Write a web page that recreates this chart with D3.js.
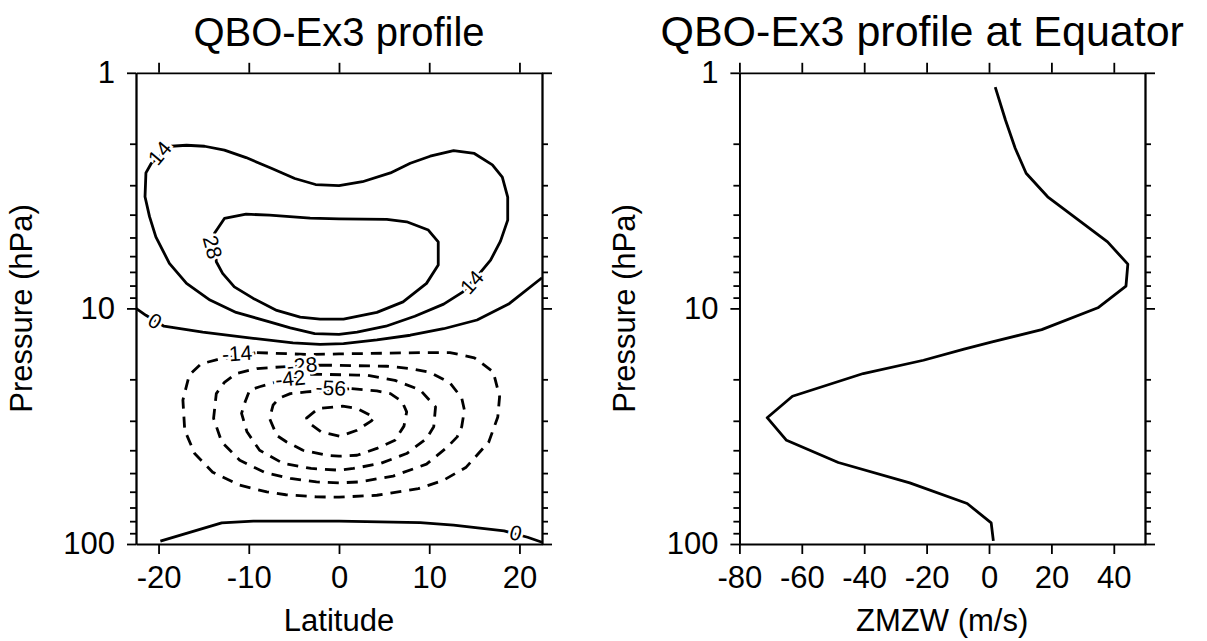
<!doctype html>
<html>
<head>
<meta charset="utf-8">
<title>QBO-Ex3 profile</title>
<script src="https://cdnjs.cloudflare.com/ajax/libs/d3/7.8.5/d3.min.js"></script>
<style>
  body { margin: 0; background: #fff; }
  svg { display: block; font-family: "Liberation Sans", Arial, sans-serif; }
  .axis path, .axis line { stroke: #000; stroke-width: 1.8px; }
  .axis text { fill: #000; }
</style>
</head>
<body>
<div id="chart"></div>
<script>
// ticks
const latTicks = [-20, -10, 0, 10, 20];
const windTicks = [-80, -60, -40, -20, 0, 20, 40];
const presMajor = [1, 10, 100];
const presMinor = [2, 3, 4, 5, 6, 7, 8, 9, 20, 30, 40, 50, 60, 70, 80, 90];

// wind profile at the equator (hPa, m/s)
const profPres = [1.15, 1.59, 2.09, 2.67, 3.36, 5.22, 6.49, 8.04, 9.94, 12.3, 13.9, 14.9, 16.6, 18.9, 23.6, 29.1, 36.3, 45.1, 55.0, 67.3, 81.4, 97.0];
const profWind = [2.0, 5.3, 8.4, 11.9, 18.8, 38.0, 44.5, 43.9, 34.9, 16.9, 0.7, -8.0, -21.0, -40.3, -63.0, -71.1, -64.9, -48.3, -25.4, -7.0, 0.7, 1.4];

// contour lines, [latitude, hPa]
const c14 = [[-18.6,2.05],[-16.9,2.03],[-14.9,2.05],[-12.7,2.13],[-10.3,2.29],[-7.5,2.54],[-4.9,2.81],[-2.6,2.98],[0,3.01],[2.6,2.90],[5.7,2.66],[7.9,2.42],[10.1,2.26],[12.7,2.14],[15.0,2.20],[17.0,2.46],[18.1,2.77],[18.7,3.37],[18.7,4.22],[17.9,5.18],[16.8,6.24],[15.7,7.02],[13.7,8.53],[11.6,9.59],[8.4,10.8],[5.2,11.9],[2.0,12.6],[0,12.9],[-2.7,12.8],[-5.4,12.1],[-7.7,11.4],[-11.4,10.4],[-14.3,9.22],[-16.9,7.83],[-18.8,6.44],[-20.3,4.97],[-21.0,4.08],[-21.5,3.36],[-21.4,2.66],[-20.8,2.42]];
const c28 = [[-13.8,4.80],[-12.7,4.15],[-10.3,3.98],[-7.7,4.02],[-3.2,4.14],[0,4.17],[5.3,4.19],[7.5,4.29],[9.9,4.65],[11.0,5.22],[11.0,6.55],[9.7,7.83],[7.1,9.38],[4.2,10.4],[0.5,11.1],[-2.1,11.1],[-4.3,10.9],[-6.9,10.2],[-9.5,9.07],[-11.6,8.10],[-12.9,7.10],[-13.6,6.34]];
const c0top = [[-22.5,10],[-21.4,10.7],[-19.4,11.9],[-15.1,12.6],[-9.5,13.4],[-5.1,14.0],[-2.1,14.2],[0.5,14.1],[4.2,13.6],[7.9,13.0],[11.6,12.2],[15.3,11.2],[18.8,9.59],[22.5,7.41]];
const c0bot = [[-19.8,97.3],[-13.0,81.4],[-9.5,80.0],[0,80.0],[9.0,81.1],[12.7,83.2],[18.3,88.0],[20.9,93.6],[22.5,98.3]];
const cm14 = [[-9.1,15.4],[-3.2,15.7],[0,15.6],[9.4,15.4],[12.3,15.4],[15.0,16.2],[17.1,18.6],[17.8,23.7],[17.6,28.9],[16.6,36.9],[14.1,47.2],[11.6,53.6],[8.8,58.2],[4.2,62.1],[0,63.3],[-2.5,63.1],[-5.9,61.8],[-8.0,60.1],[-11.0,56.3],[-14.0,49.6],[-16.0,41.3],[-17.1,32.9],[-17.3,24.5],[-16.6,19.2],[-15.3,17.2],[-13.5,16.5]];
const cm28 = [[-2.0,17.4],[5.3,17.6],[7.9,18.0],[10.1,18.7],[12.3,20.7],[13.6,24.0],[13.9,27.0],[13.6,31.8],[13.1,35.1],[12.0,38.8],[9.7,45.8],[6.0,51.5],[2.3,54.5],[0,55.0],[-2.5,54.5],[-5.4,52.7],[-8.2,49.8],[-11.0,44.1],[-13.0,36.9],[-13.9,29.3],[-13.6,23.0],[-12.7,20.6],[-11.4,18.9],[-9.1,18.0],[-6.3,17.7]];
const cm42 = [[-3.1,19.0],[2.0,19.2],[3.1,19.2],[6.2,20.2],[9.0,22.2],[10.7,26.2],[10.5,31.8],[9.7,35.7],[7.5,41.3],[4.6,45.5],[1.6,47.8],[0,48.6],[-3.1,47.8],[-6.2,45.5],[-8.8,40.0],[-10.2,33.4],[-10.8,27.9],[-10.4,24.9],[-9.9,22.2],[-8.8,21.5],[-7.3,20.7]];
const cm56 = [[1.4,21.9],[4.2,22.4],[5.7,23.0],[7.0,24.9],[7.5,27.5],[7.2,31.6],[6.2,36.3],[4.2,39.3],[2.0,42.0],[0,42.4],[-1.4,42.0],[-4.0,40.0],[-5.8,36.9],[-6.9,34.6],[-7.7,29.3],[-7.3,25.7],[-6.6,24.0],[-5.4,23.0],[-3.6,22.6]];
const cm70 = [[-3.6,29.2],[-2.3,26.6],[0.4,26.0],[2.0,26.6],[3.9,29.0],[3.6,30.0],[2.0,32.9],[0.1,34.9],[-2.0,33.4],[-3.3,30.7]];

// contour labels
const labelText = ['14', '14', '28', '0', '0', '-14', '-28', '-42', '-56'];
const labelLat  = [-19.9, 14.7, -14.0, -20.4, 19.6, -11.3, -4.1, -5.4, -0.9];
const labelPres = [2.19, 7.73, 5.49, 11.3, 89.5, 15.5, 17.4, 19.8, 21.7];

const W = 1207, H = 641;
const svg = d3.select('#chart').append('svg')
  .attr('width', W)
  .attr('height', H);

const y = d3.scaleLog().domain([1, 100]).range([72.8, 544]);
const xLat = d3.scaleLinear().domain([-22.5, 22.5]).range([136, 542]);
const xWind = d3.scaleLinear().domain([-80, 50]).range([739.4, 1145]);

const fmt = d => String(d);

function drawFrame(x, xticks, title, xlabel, titleSize, titleShift) {
  const [x0, x1] = x.range();
  const [y0, y1] = y.range();
  const g = svg.append('g');

  // bottom and top
  g.append('g').attr('class', 'axis').attr('transform', `translate(0,${y1})`)
    .call(d3.axisBottom(x).tickValues(xticks).tickSize(10).tickSizeOuter(0).tickPadding(12).tickFormat(fmt));
  g.append('g').attr('class', 'axis').attr('transform', `translate(0,${y0})`)
    .call(d3.axisTop(x).tickValues(xticks).tickSize(10).tickSizeOuter(0).tickFormat(''));

  // left and right, major + minor
  g.append('g').attr('class', 'axis').attr('transform', `translate(${x0},0)`)
    .call(d3.axisLeft(y).tickValues(presMajor).tickSize(9).tickSizeOuter(0).tickPadding(12).tickFormat(fmt));
  g.append('g').attr('class', 'axis').attr('transform', `translate(${x0},0)`)
    .call(d3.axisLeft(y).tickValues(presMinor).tickSize(6).tickSizeOuter(0).tickFormat(''));
  g.append('g').attr('class', 'axis').attr('transform', `translate(${x1},0)`)
    .call(d3.axisRight(y).tickValues(presMajor).tickSize(10).tickSizeOuter(0).tickFormat(''));
  g.append('g').attr('class', 'axis').attr('transform', `translate(${x1},0)`)
    .call(d3.axisRight(y).tickValues(presMinor).tickSize(6).tickSizeOuter(0).tickFormat(''));

  g.selectAll('.axis').attr('font-size', 31).attr('font-family', null);

  const cx = (x0 + x1) / 2;
  g.append('text').attr('x', cx + titleShift).attr('y', 46)
    .attr('text-anchor', 'middle').attr('font-size', titleSize).text(title);
  g.append('text').attr('x', cx).attr('y', 631)
    .attr('text-anchor', 'middle').attr('font-size', 31).text(xlabel);
  g.append('text')
    .attr('transform', `translate(${x0 - 104},${(y0 + y1) / 2}) rotate(-90)`)
    .attr('text-anchor', 'middle').attr('font-size', 31).text('Pressure (hPa)');
}

drawFrame(xLat, latTicks, 'QBO-Ex3 profile', 'Latitude', 40, 0);
drawFrame(xWind, windTicks, 'QBO-Ex3 profile at Equator', 'ZMZW (m/s)', 43, -20);

// left panel: contours
const open = d3.line().x(d => xLat(d[0])).y(d => y(d[1]));
const closed = d3.line().x(d => xLat(d[0])).y(d => y(d[1])).curve(d3.curveLinearClosed);

const cg = svg.append('g')
  .attr('fill', 'none')
  .attr('stroke', '#000')
  .attr('stroke-width', 2.8)
  .attr('stroke-linejoin', 'round');

[c14, c28].forEach(c => cg.append('path').attr('d', closed(c)));
[c0top, c0bot].forEach(c => cg.append('path').attr('d', open(c)));
[cm14, cm28, cm42, cm56, cm70].forEach(c =>
  cg.append('path').attr('d', closed(c)).attr('stroke-dasharray', '11,8'));

const angles = [-50, -48, 75, 30, 15, -4, -5, -6, 3];
svg.append('g').selectAll('text')
  .data(labelText)
  .join('text')
  .attr('transform', (d, i) => `translate(${xLat(labelLat[i])},${y(labelPres[i])}) rotate(${angles[i]})`)
  .attr('text-anchor', 'middle')
  .attr('dominant-baseline', 'central')
  .attr('font-size', 21)
  .attr('stroke', '#fff')
  .attr('stroke-width', 5)
  .attr('paint-order', 'stroke')
  .attr('fill', '#000')
  .text(d => d);

// right panel: profile
const prof = profWind.map((w, i) => [w, profPres[i]]);
svg.append('path')
  .attr('d', d3.line().x(d => xWind(d[0])).y(d => y(d[1]))(prof))
  .attr('fill', 'none')
  .attr('stroke', '#000')
  .attr('stroke-width', 2.8)
  .attr('stroke-linejoin', 'round');
</script>
</body>
</html>
